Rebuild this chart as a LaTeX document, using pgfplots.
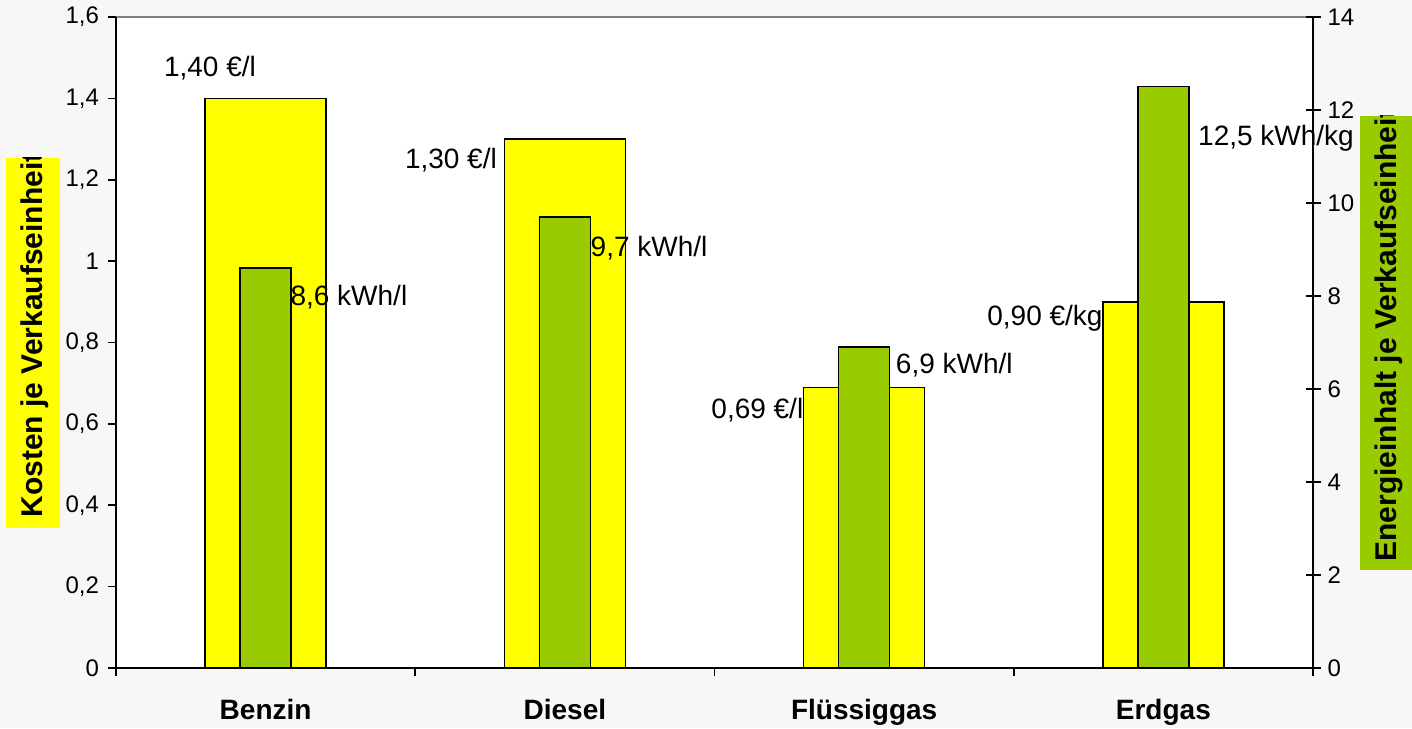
\documentclass[border=0pt]{standalone}
\usepackage{fontspec}
\setmainfont{Liberation Sans}
\usepackage{pgfplots}
\pgfplotsset{compat=1.18}
\definecolor{ygelb}{HTML}{FFFF00}
\definecolor{ggruen}{HTML}{99CC00}
\definecolor{bgray}{HTML}{F7F7F7}
\begin{document}
\begin{tikzpicture}
\fill[bgray] (-58pt,-30pt) rectangle (648pt,334pt);
\fill[white] (0pt,0pt) rectangle (598.5pt,325.5pt);
\useasboundingbox (-58pt,-30pt) rectangle (648pt,334pt);
\draw[gray, line width=0.8pt] (0pt,325.5pt) -- (598.5pt,325.5pt);
% left label box
\begin{scope}
\clip (-55pt,70pt) rectangle (-28pt,255pt);
\fill[ygelb] (-55pt,70pt) rectangle (-28pt,255pt);
\node[rotate=90, anchor=base west, inner sep=0pt, font=\bfseries\fontsize{15}{18}\selectfont] at (-36.5pt,75pt) {Kosten je Verkaufseinheit};
\end{scope}
% right label box
\begin{scope}
\clip (622pt,49pt) rectangle (648pt,276pt);
\fill[ggruen] (622pt,49pt) rectangle (648pt,276pt);
\node[rotate=90, anchor=base west, inner sep=0pt, font=\bfseries\fontsize{15}{18}\selectfont] at (640pt,53pt) {Energieinhalt je Verkaufseinheit};
\end{scope}
\begin{axis}[
  at={(0pt,0pt)}, anchor=south west, scale only axis,
  width=598.5pt, height=325.5pt,
  xmin=-0.5, xmax=3.5, ymin=0, ymax=1.6,
  axis x line*=bottom, axis y line*=left,
  axis line style={line width=1pt, black},
  ybar, bar width=60.5pt, bar shift=0pt,
  ytick={0,0.2,0.4,0.6,0.8,1,1.2,1.4,1.6},
  yticklabels={0,{0,2},{0,4},{0,6},{0,8},1,{1,2},{1,4},{1,6}},
  yticklabel style={xshift=-1pt},
  xtick={-0.5,0.5,1.5,2.5,3.5}, xticklabels={},
  extra x ticks={0,1,2,3},
  extra x tick labels={Benzin,Diesel,Flüssiggas,Erdgas},
  extra x tick style={major tick length=0pt, tick style={draw=none},
    xticklabel style={font=\bfseries\fontsize{14}{17}\selectfont, yshift=-12pt}},
  tick align=outside, major tick length=4pt,
  tick style={line width=0.8pt, black},
  ticklabel style={font=\fontsize{12}{14}\selectfont},
  clip=false,
]
\addplot[fill=ygelb, draw=black, line width=0.75pt] coordinates {(0,1.40) (1,1.30) (2,0.69) (3,0.90)};
\node[font=\fontsize{14}{17}\selectfont, inner sep=0pt] at (axis cs:-0.186,1.475) {1,40 €/l};
\node[font=\fontsize{14}{17}\selectfont, inner sep=0pt, anchor=east] at (axis cs:0.774,1.249) {1,30 €/l};
\node[font=\fontsize{14}{17}\selectfont, inner sep=0pt, anchor=east] at (axis cs:1.798,0.634) {0,69 €/l};
\node[font=\fontsize{14}{17}\selectfont, inner sep=0pt, anchor=east] at (axis cs:2.798,0.860) {0,90 €/kg};
\end{axis}
\begin{axis}[
  at={(0pt,0pt)}, anchor=south west, scale only axis,
  width=598.5pt, height=325.5pt,
  xmin=-0.5, xmax=3.5, ymin=0, ymax=14,
  axis y line*=right, axis x line=none,
  axis line style={line width=1pt, black},
  ybar, bar width=25.5pt, bar shift=0pt,
  ytick={0,2,4,6,8,10,12,14},
  yticklabels={0,2,4,6,8,10,12,14},
  tick align=center, major tick length=7.5pt,
  tick style={line width=0.8pt, black},
  ticklabel style={font=\fontsize{12}{14}\selectfont},
  clip=false,
]
\addplot[fill=ggruen, draw=black, line width=0.75pt] coordinates {(0,8.6) (1,9.7) (2,6.9) (3,12.5)};
\node[font=\fontsize{14}{17}\selectfont, inner sep=0pt, anchor=west] at (axis cs:0.082,7.98) {8,6 kWh/l};
\node[font=\fontsize{14}{17}\selectfont, inner sep=0pt, anchor=west] at (axis cs:1.085,9.03) {9,7 kWh/l};
\node[font=\fontsize{14}{17}\selectfont, inner sep=0pt, anchor=west] at (axis cs:2.105,6.52) {6,9 kWh/l};
\node[font=\fontsize{14}{17}\selectfont, inner sep=0pt, anchor=west] at (axis cs:3.115,11.40) {12,5 kWh/kg};
\end{axis}
\end{tikzpicture}
\end{document}
